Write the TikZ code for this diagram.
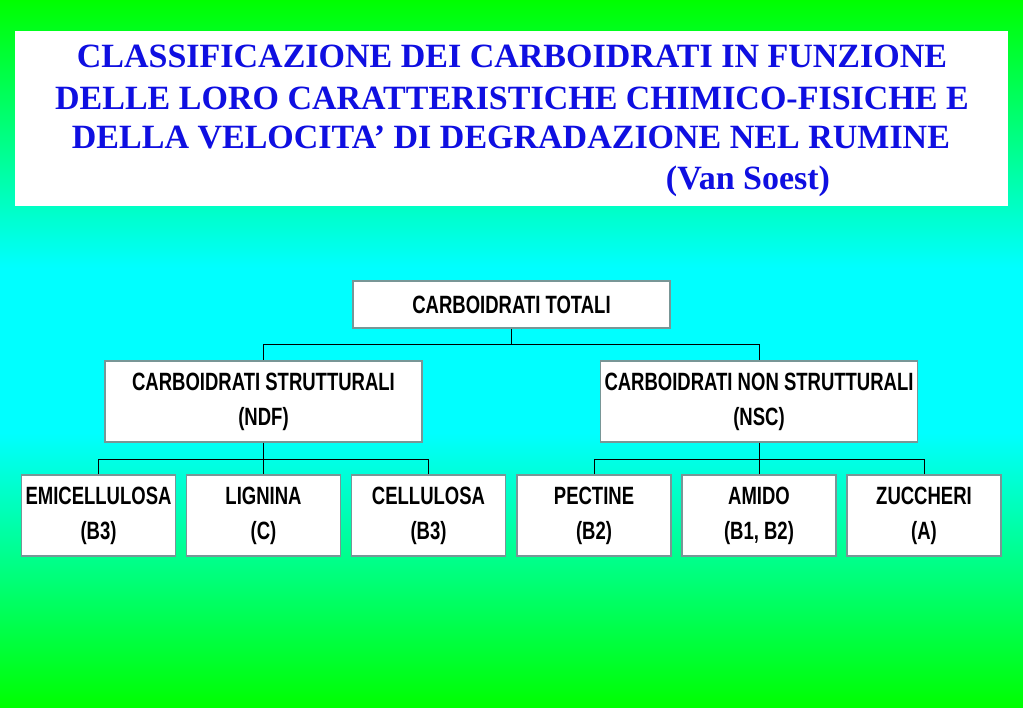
\documentclass[tikz,border=0pt]{standalone}
\usepackage{fontspec}
\newfontfamily\boxfont[FakeStretch=0.74]{Liberation Sans}
\newfontfamily\titlefont{Liberation Serif}
\usetikzlibrary{calc}
\definecolor{titleblue}{RGB}{15,15,225}
\definecolor{boxedge}{RGB}{120,150,150}
\pgfdeclareverticalshading{bgshade}{100bp}{rgb(0bp)=(0,1,0); rgb(25bp)=(0,1,0); rgb(44.4bp)=(0,1,1); rgb(56.1bp)=(0,1,1); rgb(75bp)=(0,1,0); rgb(100bp)=(0,1,0)}
\begin{document}
\begin{tikzpicture}[x=1pt,y=-1pt,
  cbox/.style={draw=boxedge, line width=1.1pt, fill=white, minimum height=81pt, inner sep=0pt, align=center,
    font=\boxfont\bfseries\fontsize{25}{35}\selectfont},
  leafbox/.style={cbox, minimum width=154pt},
  midbox/.style={cbox, minimum width=317pt},
  topbox/.style={cbox, minimum width=317pt, minimum height=47pt},
  ttl/.style={anchor=base, text=titleblue, font=\titlefont\bfseries\fontsize{34}{38}\selectfont, inner sep=0pt},
  conn/.style={draw=black, line width=1pt}]
\useasboundingbox (0,0) rectangle (1023,708);
\shade[shading=bgshade] (0,0) rectangle (1023,708);
% title panel
\node[fill=white, draw=none, minimum width=993pt, minimum height=175pt, inner sep=0pt] (panel) at (511.5,118.5) {};
\node[ttl] (t1) at (512,68) {CLASSIFICAZIONE DEI CARBOIDRATI IN FUNZIONE};
\node[ttl] (t2) at (512,109.5) {DELLE LORO CARATTERISTICHE CHIMICO-FISICHE E};
\node[ttl] (t3) at (511,149) {DELLA VELOCITA’ DI DEGRADAZIONE NEL RUMINE};
\node[ttl] (t4) at (748,190) {(Van Soest)};
% tree
\node[topbox] (top) at (511.5,304.5) {CARBOIDRATI TOTALI};
\node[midbox] (strut) at (263.5,401.5) {CARBOIDRATI STRUTTURALI\\(NDF)};
\node[midbox] (nonstrut) at (759,401.5) {CARBOIDRATI NON STRUTTURALI\\(NSC)};
\node[leafbox] (emi) at (98.5,515.5) {EMICELLULOSA\\(B3)};
\node[leafbox] (lig) at (263.5,515.5) {LIGNINA\\(C)};
\node[leafbox] (cel) at (428.5,515.5) {CELLULOSA\\(B3)};
\node[leafbox] (pec) at (594,515.5) {PECTINE\\(B2)};
\node[leafbox] (ami) at (759,515.5) {AMIDO\\(B1, B2)};
\node[leafbox] (zuc) at (924,515.5) {ZUCCHERI\\(A)};
% connectors
\coordinate (j0) at ($(top.south)+(0,16)$);
\coordinate (j1) at ($(strut.south)+(0,17)$);
\coordinate (j2) at ($(nonstrut.south)+(0,17)$);
\draw[conn] (top.south) -- (j0);
\draw[conn] (j0) -| (strut.north);
\draw[conn] (j0) -| (nonstrut.north);
\draw[conn] (strut.south) -- (j1);
\draw[conn] (j1) -| (emi.north);
\draw[conn] (j1) -| (lig.north);
\draw[conn] (j1) -| (cel.north);
\draw[conn] (nonstrut.south) -- (j2);
\draw[conn] (j2) -| (pec.north);
\draw[conn] (j2) -| (ami.north);
\draw[conn] (j2) -| (zuc.north);
\end{tikzpicture}
\end{document}
